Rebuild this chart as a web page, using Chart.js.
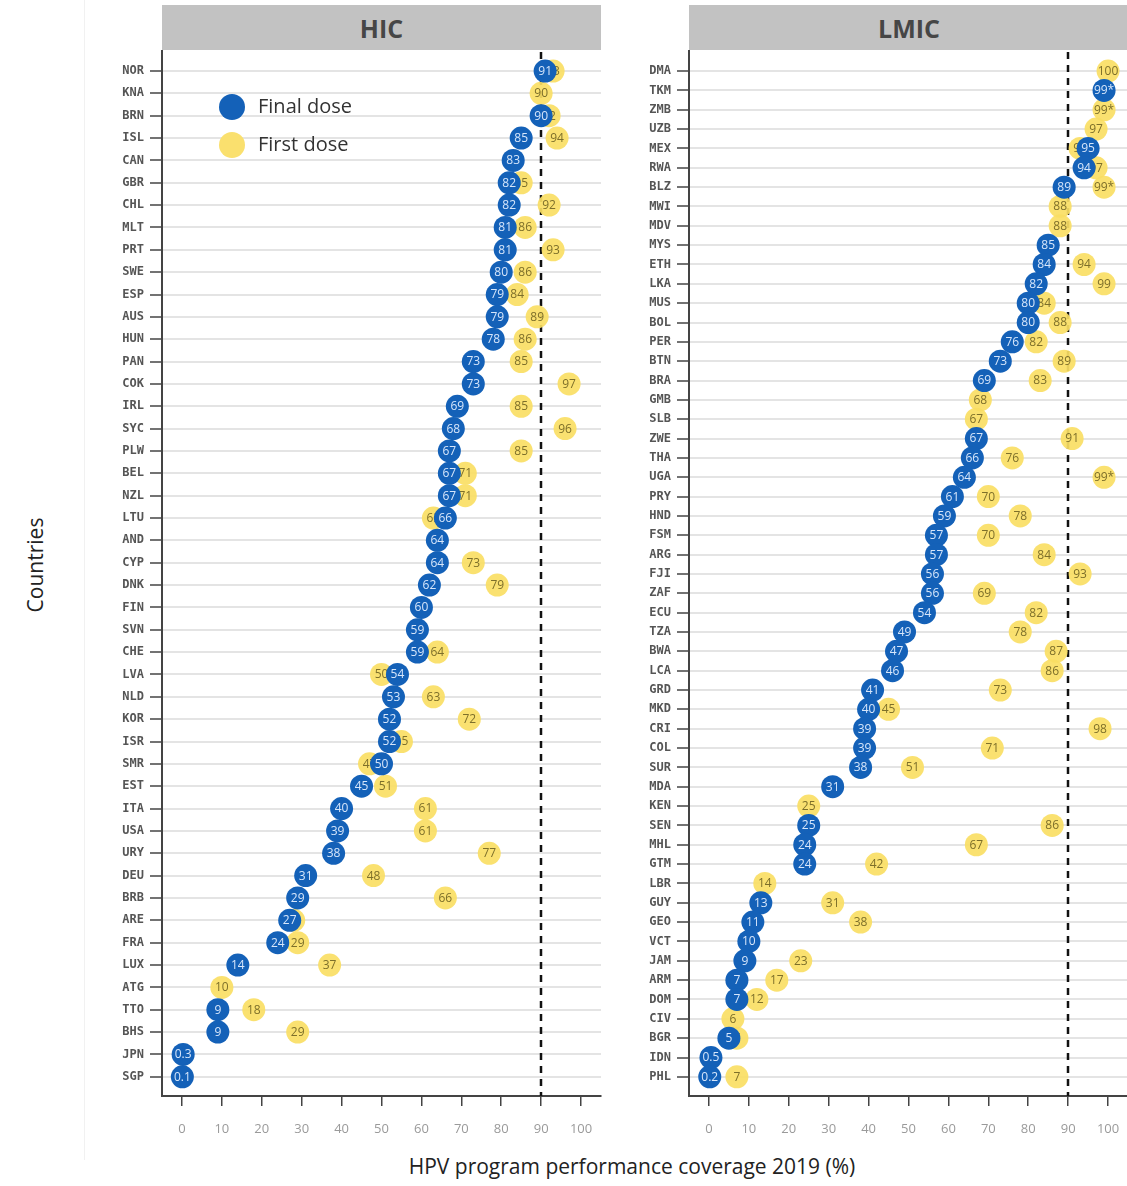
<!DOCTYPE html>
<html><head><meta charset="utf-8">
<script src="https://cdn.jsdelivr.net/npm/chart.js@4.4.1/dist/chart.umd.min.js"></script>
<style>
html,body{margin:0;padding:0;background:#fff;}
body{width:1127px;height:1186px;overflow:hidden;position:relative;font-family:'Open Sans',sans-serif;}
.strip{position:absolute;top:5px;height:45px;background:#c2c2c2;color:#464646;font:bold 25px 'Open Sans',sans-serif;display:flex;align-items:center;justify-content:center;}
canvas{position:absolute;}
.leg{position:absolute;left:219px;width:26px;height:26px;border-radius:50%;}
.legt{position:absolute;left:258px;font:20px 'Open Sans',sans-serif;color:#333;line-height:26px;}
.frame{position:absolute;background:#f1f1f1;}
</style></head>
<body>
<div class="frame" style="left:84px;top:0;width:1px;height:1160px"></div>
<div class="strip" style="left:162px;width:439px">HIC</div>
<div class="strip" style="left:689px;width:440px">LMIC</div>
<canvas id="hic" width="515" height="1090" style="left:90px;top:50px"></canvas>
<canvas id="lmic" width="511" height="1090" style="left:617px;top:50px"></canvas>
<div class="leg" style="top:94px;background:#1461b8"></div>
<div class="legt" style="top:93px">Final dose</div>
<div class="leg" style="top:132px;background:#fae06e"></div>
<div class="legt" style="top:131px">First dose</div>
<div style="position:absolute;left:35px;top:565px;transform:translate(-50%,-50%) rotate(-90deg);font:21px 'Open Sans',sans-serif;color:#222;white-space:nowrap">Countries</div>
<div style="position:absolute;left:632px;top:1166px;transform:translate(-50%,-50%);font:21px 'Open Sans',sans-serif;color:#222;white-space:nowrap">HPV program performance coverage 2019 (%)</div>
<script>
// ---- data ----
const hicCountries = ['NOR','KNA','BRN','ISL','CAN','GBR','CHL','MLT','PRT','SWE','ESP','AUS','HUN','PAN','COK','IRL','SYC','PLW','BEL','NZL','LTU','AND','CYP','DNK','FIN','SVN','CHE','LVA','NLD','KOR','ISR','SMR','EST','ITA','USA','URY','DEU','BRB','ARE','FRA','LUX','ATG','TTO','BHS','JPN','SGP'];
const hicFinal = [91,null,90,85,83,82,82,81,81,80,79,79,78,73,73,69,68,67,67,67,66,64,64,62,60,59,59,54,53,52,52,50,45,40,39,38,31,29,27,24,14,null,9,9,0.3,0.1];
const hicFirst = [93,90,92,94,null,85,92,86,93,86,84,89,86,85,97,85,96,85,71,71,63,null,73,79,null,null,64,50,63,72,55,47,51,61,61,77,48,66,28,29,37,10,18,29,null,null];
const hicFinalStar = [];
const hicFirstStar = [];

const lmicCountries = ['DMA','TKM','ZMB','UZB','MEX','RWA','BLZ','MWI','MDV','MYS','ETH','LKA','MUS','BOL','PER','BTN','BRA','GMB','SLB','ZWE','THA','UGA','PRY','HND','FSM','ARG','FJI','ZAF','ECU','TZA','BWA','LCA','GRD','MKD','CRI','COL','SUR','MDA','KEN','SEN','MHL','GTM','LBR','GUY','GEO','VCT','JAM','ARM','DOM','CIV','BGR','IDN','PHL'];
const lmicFinal = [null,99,null,null,95,94,89,null,null,85,84,82,80,80,76,73,69,null,null,67,66,64,61,59,57,57,56,56,54,49,47,46,41,40,39,39,38,31,null,25,24,24,null,13,11,10,9,7,7,null,5,0.5,0.2];
const lmicFirst = [100,null,99,97,93,97,99,88,88,null,94,99,84,88,82,89,83,68,67,91,76,99,70,78,70,84,93,69,82,78,87,86,73,45,98,71,51,null,25,86,67,42,14,31,38,null,23,17,12,6,7,null,7];
const lmicFinalStar = ['TKM'];
const lmicFirstStar = ['ZMB','BLZ','UGA'];

const xTickValues = [0,10,20,30,40,50,60,70,80,90,100];
const targetCoverage = 90;
const seriesNames = ['Final dose','First dose'];

// ---- helpers ----
function fmt(v){ return Number.isInteger(v) ? String(v) : v.toFixed(1); }
function texts(countries, vals, stars){
  return vals.map((v,i)=> v==null ? null : fmt(v) + (stars.includes(countries[i]) ? '*' : ''));
}
const refLine = {
  id:'refLine',
  beforeDatasetsDraw(chart){
    const {ctx, chartArea:a, scales:{x}} = chart;
    const px = Math.round(x.getPixelForValue(targetCoverage));
    ctx.save(); ctx.strokeStyle='#111'; ctx.lineWidth=2.5; ctx.setLineDash([7,6]);
    ctx.beginPath(); ctx.moveTo(px,a.top+2); ctx.lineTo(px,a.bottom); ctx.stroke(); ctx.restore();
  }
};
const pointLabels = {
  id:'pointLabels',
  afterDatasetDraw(chart, args){
    const ds = chart.data.datasets[args.index];
    const ctx = chart.ctx;
    ctx.save();
    ctx.font = '12px "Open Sans", sans-serif';
    ctx.textAlign='center'; ctx.textBaseline='middle';
    ctx.fillStyle = ds.labelColor;
    args.meta.data.forEach((el,i)=>{
      const t = ds.pointTexts[i];
      if (t==null || el.skip) return;
      ctx.fillText(t, el.x, el.y+0.5);
    });
    ctx.restore();
  }
};

function makeChart(id, countries, finalV, firstV, finalStar, firstStar, yMin, yMax, padRight){
  return new Chart(document.getElementById(id), {
    type:'scatter',
    data:{
      datasets:[
        { label:seriesNames[0], order:0,
          data: countries.map((c,i)=>({x:finalV[i], y:i})),
          pointTexts: texts(countries, finalV, finalStar),
          labelColor:'#d6e6fb',
          pointRadius:11.5, pointBackgroundColor:'#1461b8', pointBorderWidth:0, showLine:false, clip:false },
        { label:seriesNames[1], order:1,
          data: countries.map((c,i)=>({x:firstV[i], y:i})),
          pointTexts: texts(countries, firstV, firstStar),
          labelColor:'#7d6f2a',
          pointRadius:11.5, pointBackgroundColor:'rgba(250,222,100,0.92)', pointBorderWidth:0, showLine:false, clip:false }
      ]
    },
    options:{
      responsive:false, animation:false, devicePixelRatio:1,
      layout:{autoPadding:false, padding:{top:0,right:padRight,bottom:0,left:0}},
      plugins:{legend:{display:false}, tooltip:{enabled:false}},
      scales:{
        x:{ type:'linear', min:-5, max:105,
            afterBuildTicks:s=>{ s.ticks = xTickValues.map(v=>({value:v})); },
            afterFit:s=>{ s.height = 44; s.paddingLeft = 0; s.paddingRight = 0; },
            grid:{drawOnChartArea:false, color:'#444', tickColor:'#444', tickLength:10, lineWidth:1.5},
            border:{color:'#444', width:2},
            ticks:{color:'#9a9a9a', font:{size:13, family:'Open Sans'}, padding:15, maxRotation:0, autoSkip:false} },
        y:{ type:'linear', reverse:true, min:yMin, max:yMax,
            afterBuildTicks:s=>{ s.ticks = countries.map((c,i)=>({value:i})); },
            afterFit:s=>{ s.width = 72; s.paddingTop = 0; s.paddingBottom = 0; },
            grid:{color:'#e4e4e4', lineWidth:2, tickColor:'#444', tickLength:12, tickWidth:1.5},
            border:{color:'#444', width:2},
            ticks:{autoSkip:false, color:'#555', padding:6,
                   font:{family:'DejaVu Sans Mono', size:12, weight:'bold'},
                   callback:(v)=>countries[v] } }
      }
    },
    plugins:[refLine, pointLabels]
  });
}
makeChart('hic', hicCountries, hicFinal, hicFirst, hicFinalStar, hicFirstStar, -0.94, 45.86, 4);
makeChart('lmic', lmicCountries, lmicFinal, lmicFirst, lmicFinalStar, lmicFirstStar, -1.09, 52.99, 0);
</script>
</body></html>
